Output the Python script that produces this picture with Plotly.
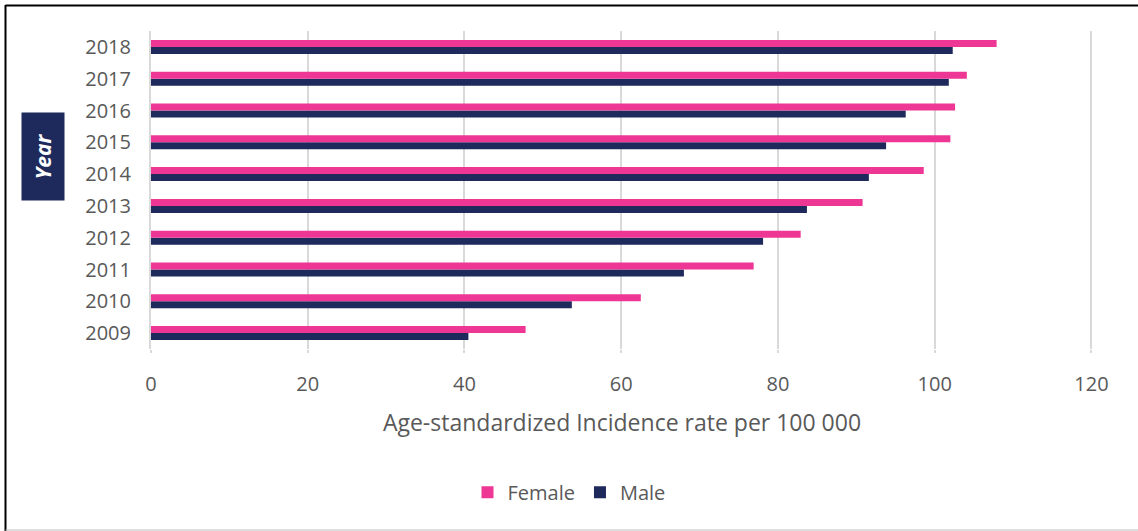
import plotly.graph_objects as go

# Age-standardized incidence rate per 100 000, by year and sex
years = ["2009", "2010", "2011", "2012", "2013", "2014", "2015", "2016", "2017", "2018"]
female = [47.8, 62.5, 76.9, 82.9, 90.8, 98.6, 102.0, 102.6, 104.1, 107.9]
male = [40.5, 53.7, 68.0, 78.1, 83.7, 91.6, 93.8, 96.3, 101.8, 102.3]
x_ticks = [0, 20, 40, 60, 80, 100, 120]

PINK = "#EE3795"
NAVY = "#1E295C"
TEXT = "#595959"
GRID = "#D9D9D9"
FONT = "Open Sans"

fig = go.Figure()
# Male first so that the Female bar sits above it within each year
fig.add_trace(go.Bar(y=years, x=male, name="Male", orientation="h",
                     marker=dict(color=NAVY, line=dict(width=0))))
fig.add_trace(go.Bar(y=years, x=female, name="Female", orientation="h",
                     marker=dict(color=PINK, line=dict(width=0))))

fig.update_layout(
    width=1138, height=531,
    margin=dict(l=151, r=45, t=31, b=182),
    paper_bgcolor="white", plot_bgcolor="white",
    barmode="group", bargap=0.56, bargroupgap=0,
    font=dict(family=FONT, color=TEXT),
    showlegend=True,
    legend=dict(orientation="h", traceorder="reversed",
                xref="container", yref="container",
                x=0.5, xanchor="center", y=0.073, yanchor="middle",
                font=dict(size=20, color=TEXT, family=FONT),
                itemclick=False),
    xaxis=dict(range=[0, 120.2], tickvals=x_ticks,
               showgrid=True, gridcolor=GRID, gridwidth=2,
               zeroline=False, showline=False,
               ticks="outside", ticklen=3, tickcolor=GRID, tickwidth=2,
               ticklabelstandoff=14,
               tickfont=dict(size=20, color=TEXT),
               title=dict(text="Age-standardized Incidence rate per 100 000",
                          font=dict(size=23, color=TEXT), standoff=18)),
    yaxis=dict(type="category", categoryorder="array", categoryarray=years,
               showgrid=False, zeroline=False,
               showline=True, linecolor=GRID, linewidth=2,
               ticks="", ticklabelstandoff=14,
               tickfont=dict(size=20, color=TEXT)),
    annotations=[dict(text="<b><i>Year</i></b>", textangle=-90,
                      xref="paper", yref="paper",
                      x=(43 - 151) / 942, y=(349 - 157) / 318,
                      xanchor="center", yanchor="middle",
                      showarrow=False, bgcolor=NAVY,
                      width=85, height=40,
                      font=dict(size=21, color="white", family=FONT))],
    shapes=[
        # frame: black top and left edges, light bottom edge
        dict(type="line", xref="paper", yref="paper",
             x0=(5.5 - 151) / 942, x1=(1138 - 151) / 942,
             y0=(349 - 5.5) / 318, y1=(349 - 5.5) / 318,
             line=dict(color="black", width=2)),
        dict(type="line", xref="paper", yref="paper",
             x0=(5.5 - 151) / 942, x1=(5.5 - 151) / 942,
             y0=(349 - 5) / 318, y1=(349 - 531) / 318,
             line=dict(color="black", width=2)),
        dict(type="line", xref="paper", yref="paper",
             x0=(5.5 - 151) / 942, x1=(1138 - 151) / 942,
             y0=(349 - 530) / 318, y1=(349 - 530) / 318,
             line=dict(color="#BFBFBF", width=1)),
    ],
)

fig.write_html("out.html")
